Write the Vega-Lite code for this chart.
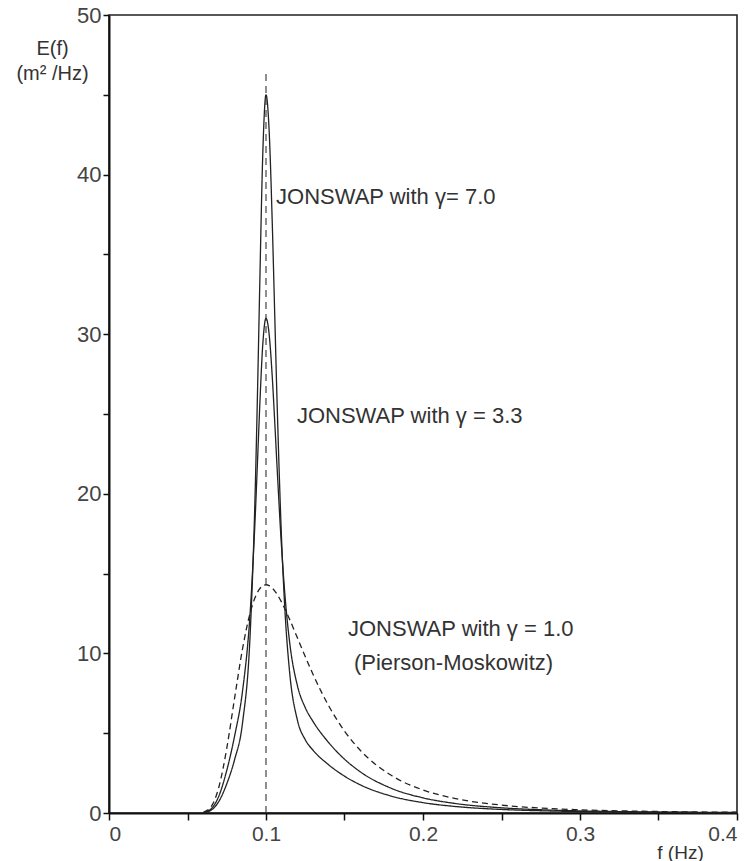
{
  "$schema": "https://vega.github.io/schema/vega-lite/v6.json",
  "autosize": "none",
  "width": 628,
  "height": 798,
  "padding": {"left": 109, "top": 15, "right": 8, "bottom": 48},
  "background": "white",
  "config": {
    "view": {"stroke": "#222", "strokeWidth": 1.6},
    "font": "Liberation Sans"
  },
  "datasets": {
    "spectra": [
      {"f": 0.060, "pm": 0.042, "j33": 0.027, "j70": 0.019},
      {"f": 0.065, "pm": 0.391, "j33": 0.257, "j70": 0.176},
      {"f": 0.070, "pm": 1.628, "j33": 1.070, "j70": 0.732},
      {"f": 0.075, "pm": 4.047, "j33": 2.664, "j70": 1.826},
      {"f": 0.080, "pm": 7.201, "j33": 4.827, "j70": 3.346},
      {"f": 0.085, "pm": 10.260, "j33": 7.601, "j70": 5.611},
      {"f": 0.090, "pm": 12.577, "j33": 12.705, "j70": 11.401},
      {"f": 0.093, "pm": 13.492, "j33": 18.285, "j70": 19.743},
      {"f": 0.095, "pm": 13.903, "j33": 23.033, "j70": 28.226},
      {"f": 0.096, "pm": 14.050, "j33": 25.444, "j70": 32.981},
      {"f": 0.098, "pm": 14.240, "j33": 29.430, "j70": 41.455},
      {"f": 0.100, "pm": 14.300, "j33": 31.000, "j70": 45.000},
      {"f": 0.102, "pm": 14.246, "j33": 29.997, "j70": 42.753},
      {"f": 0.104, "pm": 14.093, "j33": 27.306, "j70": 36.931},
      {"f": 0.1055, "pm": 13.923, "j33": 24.628, "j70": 31.451},
      {"f": 0.107, "pm": 13.713, "j33": 21.768, "j70": 25.966},
      {"f": 0.110, "pm": 13.197, "j33": 16.507, "j70": 16.948},
      {"f": 0.112, "pm": 12.797, "j33": 13.734, "j70": 12.804},
      {"f": 0.115, "pm": 12.143, "j33": 10.743, "j70": 8.869},
      {"f": 0.120, "pm": 10.978, "j33": 7.979, "j70": 5.819},
      {"f": 0.125, "pm": 9.802, "j33": 6.603, "j70": 4.592},
      {"f": 0.130, "pm": 8.678, "j33": 5.727, "j70": 3.930},
      {"f": 0.140, "pm": 6.703, "j33": 4.403, "j70": 3.013},
      {"f": 0.150, "pm": 5.135, "j33": 3.373, "j70": 2.308},
      {"f": 0.160, "pm": 3.933, "j33": 2.584, "j70": 1.768},
      {"f": 0.180, "pm": 2.345, "j33": 1.540, "j70": 1.054},
      {"f": 0.200, "pm": 1.443, "j33": 0.948, "j70": 0.649},
      {"f": 0.220, "pm": 0.918, "j33": 0.603, "j70": 0.413},
      {"f": 0.250, "pm": 0.495, "j33": 0.325, "j70": 0.223},
      {"f": 0.280, "pm": 0.284, "j33": 0.187, "j70": 0.128},
      {"f": 0.300, "pm": 0.202, "j33": 0.133, "j70": 0.091},
      {"f": 0.350, "pm": 0.094, "j33": 0.062, "j70": 0.042},
      {"f": 0.400, "pm": 0.049, "j33": 0.032, "j70": 0.022}
    ],
    "labels": [
      {"f": 0.1064, "E": 38.6, "text": "JONSWAP with γ= 7.0"},
      {"f": 0.1197, "E": 24.9, "text": "JONSWAP with γ = 3.3"},
      {"f": 0.1522, "E": 11.5, "text": "JONSWAP with γ = 1.0"},
      {"f": 0.1560, "E": 9.4, "text": "(Pierson-Moskowitz)"}
    ],
    "peak": [
      {"fp": 0.1, "low": 0, "high": 46.5}
    ]
  },
  "layer": [
    {
      "data": {"name": "spectra"},
      "transform": [{"fold": ["j70", "j33", "pm"], "as": ["series", "E"]}],
      "mark": {"type": "line", "interpolate": "monotone", "strokeWidth": 1.3, "color": "#222"},
      "encoding": {
        "x": {
          "field": "f", "type": "quantitative",
          "scale": {"domain": [0, 0.4], "nice": false},
          "axis": {
            "values": [0, 0.05, 0.1, 0.15, 0.2, 0.25, 0.3, 0.35, 0.4],
            "labelExpr": "round(datum.value*100) % 10 == 0 ? format(datum.value, '~g') : ''",
            "grid": false, "domainColor": "#111", "domainWidth": 2,
            "tickColor": "#111", "tickWidth": 1.5, "tickSize": 7,
            "labelFontSize": 21, "labelColor": "#444", "labelPadding": 3,
            "labelFont": "Liberation Sans",
            "title": "f (Hz)", "titleFontSize": 19, "titleFontWeight": "normal",
            "titleColor": "#333", "titleX": 571, "titleY": 45,
            "titleAlign": "center", "titleBaseline": "alphabetic"
          }
        },
        "y": {
          "field": "E", "type": "quantitative",
          "scale": {"domain": [0, 50], "nice": false},
          "axis": {
            "values": [0, 5, 10, 15, 20, 25, 30, 35, 40, 45, 50],
            "labelExpr": "datum.value % 10 == 0 ? datum.label : ''",
            "grid": false, "domainColor": "#111", "domainWidth": 2,
            "tickColor": "#111", "tickWidth": 1.5, "tickSize": 6,
            "labelFontSize": 22, "labelColor": "#444", "labelPadding": 2,
            "labelFont": "Liberation Sans",
            "title": ["E(f)", "(m² /Hz)"], "titleFontSize": 20, "titleFontWeight": "normal",
            "titleColor": "#333", "titleAngle": 0, "titleX": -57, "titleY": 39,
            "titleAlign": "center", "titleBaseline": "alphabetic", "titleLineHeight": 25
          }
        },
        "strokeDash": {
          "field": "series", "type": "nominal",
          "scale": {"domain": ["j70", "j33", "pm"], "range": [[1, 0], [1, 0], [6, 4]]},
          "legend": null
        },
        "detail": {"field": "series"}
      }
    },
    {
      "data": {"name": "peak"},
      "mark": {"type": "rule", "strokeDash": [7, 5], "strokeWidth": 1.1, "color": "#333"},
      "encoding": {
        "x": {"field": "fp", "type": "quantitative"},
        "y": {"field": "low", "type": "quantitative"},
        "y2": {"field": "high"}
      }
    },
    {
      "data": {"name": "labels"},
      "mark": {"type": "text", "align": "left", "baseline": "middle", "fontSize": 22, "color": "#333", "font": "Liberation Sans"},
      "encoding": {
        "x": {"field": "f", "type": "quantitative"},
        "y": {"field": "E", "type": "quantitative"},
        "text": {"field": "text"}
      }
    }
  ]
}
